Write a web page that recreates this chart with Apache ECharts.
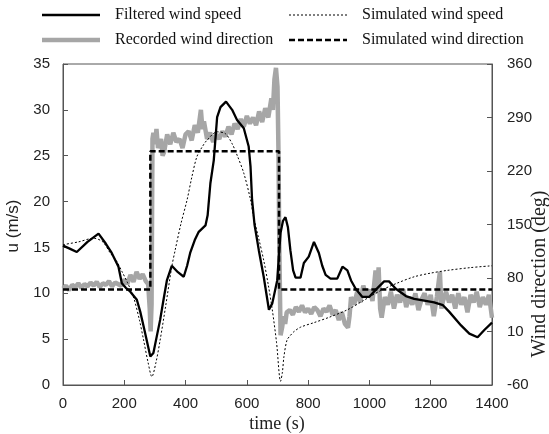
<!DOCTYPE html>
<html>
<head>
<meta charset="utf-8">
<script src="https://cdn.jsdelivr.net/npm/echarts@6/dist/echarts.min.js"></script>
<style>
  html, body { margin: 0; padding: 0; background: #fff; }
  #chart { width: 549px; height: 434px; }
</style>
</head>
<body>
<div id="chart"></div>
<script>
// time axis ticks (s)
const timeTicks = [0, 200, 400, 600, 800, 1000, 1200, 1400];
// left axis: wind speed u (m/s); right axis: wind direction (deg)
const speedTicks = [0, 5, 10, 15, 20, 25, 30, 35];
const directionTicks = [-60, 10, 80, 150, 220, 290, 360];

// Filtered wind speed [time s, u m/s]
const filteredSpeed = [
  [0,15.2],[20,14.9],[45,14.5],[80,15.6],[116,16.5],[140,15.4],[159,14.4],[181,12.9],
  [192,11.1],[205,10.6],[219,10.2],[241,9.3],[252,8.0],[263,6.4],[275,4.6],[285,3.1],
  [295,3.5],[306,5.3],[317,7.1],[328,9.3],[339,11.4],[355,13.0],[375,12.3],[394,11.8],
  [405,13.0],[415,14.4],[430,15.8],[443,16.7],[465,17.4],[472,18.5],[481,22.0],[492,24.5],
  [503,29.2],[514,30.3],[532,30.9],[552,30.0],[568,28.9],[590,28.0],[606,26.0],[612,23.8],
  [617,20.2],[625,17.5],[639,14.7],[655,11.8],[672,8.2],[683,8.9],[699,11.4],[710,16.6],
  [718,17.9],[726,18.3],[734,17.2],[742,14.7],[751,12.5],[759,11.7],[775,11.7],[786,13.3],
  [802,14.0],[819,15.6],[835,14.4],[846,13.0],[857,12.0],[873,11.6],[895,11.6],[912,12.9],
  [928,12.5],[940,11.4],[955,10.5],[977,9.6],[999,9.6],[1021,10.4],[1048,11.3],[1064,11.3],
  [1086,10.5],[1119,9.7],[1146,9.4],[1179,9.2],[1211,9.0],[1240,8.7],[1260,8.0],[1299,6.5],
  [1326,5.6],[1353,5.2],[1375,6.0],[1400,6.8]
];

// Simulated wind speed [time s, u m/s]
const simulatedSpeed = [
  [0,15.3],[50,15.6],[100,16.0],[130,15.6],[154,14.4],[175,13.5],[192,12.4],[210,11.2],
  [230,9.6],[250,7.0],[263,4.9],[278,2.4],[290,0.9],[303,2.4],[317,4.9],[335,8.6],
  [355,12.9],[366,14.7],[385,17.6],[405,20.2],[420,22.6],[437,24.9],[455,26.0],[470,26.7],
  [503,27.6],[530,27.4],[552,26.3],[570,24.9],[590,23.1],[612,20.2],[622,18.3],[640,15.8],
  [655,13.6],[670,10.9],[683,8.2],[697,4.6],[710,0.4],[716,1.4],[721,3.1],[731,4.9],
  [742,5.4],[753,5.8],[775,6.3],[819,6.8],[870,7.4],[928,8.2],[980,9.2],[1037,10.3],
  [1090,11.1],[1146,11.8],[1200,12.2],[1255,12.5],[1330,12.8],[1400,13.0]
];

// Recorded wind direction [time s, deg]
const recordedDirection = [
  [0,66],[10,70],[20,64],[30,71],[40,68],[50,73],[60,67],[70,72],[80,69],[90,74],
  [100,70],[110,75],[120,68],[130,73],[140,71],[150,76],[160,69],[170,74],[180,72],[190,70],
  [200,78],[210,72],[220,84],[230,75],[240,88],[250,79],[260,85],[270,76],[278,72],[283,40],
  [286,10],[289,45],[292,262],[295,270],[300,255],[305,275],[310,250],[320,262],[325,240],
  [330,245],[340,268],[350,255],[360,270],[370,258],[380,262],[390,250],[400,268],[410,272],
  [420,260],[430,280],[440,270],[450,300],[455,275],[460,285],[470,262],[480,270],[490,258],
  [500,268],[510,262],[520,272],[530,265],[540,278],[550,268],[560,282],[570,275],[580,288],
  [590,278],[600,292],[610,282],[620,290],[630,280],[640,298],[650,284],[660,302],[670,290],
  [680,315],[685,300],[690,340],[695,355],[700,330],[703,250],[706,120],[710,5],[715,15],
  [720,30],[725,20],[730,35],[740,38],[750,32],[760,42],[770,36],[780,44],[790,35],[800,40],
  [810,33],[820,42],[830,38],[840,30],[850,40],[860,36],[870,44],[880,32],[890,38],[900,25],
  [910,35],[920,20],[930,15],[935,30],[940,55],[950,45],[960,62],[970,48],[980,70],[990,55],
  [1000,65],[1010,50],[1020,90],[1025,60],[1030,94],[1035,40],[1040,28],[1050,55],[1060,45],
  [1070,62],[1080,40],[1090,58],[1100,48],[1110,65],[1120,42],[1130,55],[1140,45],[1150,60],
  [1160,38],[1170,52],[1180,60],[1190,45],[1200,58],[1210,30],[1220,55],[1230,88],[1235,40],
  [1240,50],[1250,62],[1260,48],[1270,58],[1280,40],[1290,60],[1300,45],[1310,55],[1320,35],
  [1330,58],[1340,48],[1350,62],[1360,42],[1370,55],[1380,45],[1390,58],[1400,28]
];

// Simulated wind direction [time s, deg]
const simulatedDirection = [
  [0,65],[285,65],[285,246],[705,246],[705,65],[1400,65]
];

const serif = '"Liberation Serif", "Times New Roman", serif';
const sans = '"Liberation Sans", Arial, sans-serif';
const axisColor = '#555';
const labelStyle = { fontFamily: sans, fontSize: 15, color: '#222', formatter: v => String(v) };

const chart = echarts.init(document.getElementById('chart'), null, { renderer: 'canvas' });

// legend drawn as line swatches + labels, two rows by two columns
function legendItem(x, y, label, line) {
  return [
    { type: 'line', shape: { x1: x, y1: y, x2: x + 58, y2: y }, style: line, silent: true },
    { type: 'text', x: x + 73, y: y, style: { text: label, font: '16px ' + serif, fill: '#111', verticalAlign: 'middle' } }
  ];
}

const legendGraphics = [].concat(
  legendItem(42, 15, 'Filtered wind speed', { stroke: '#000', lineWidth: 2.5 }),
  legendItem(289, 15, 'Simulated wind speed', { stroke: '#000', lineWidth: 1, lineDash: [2, 2] }),
  legendItem(42, 40, 'Recorded wind direction', { stroke: '#a6a6a6', lineWidth: 4.5 }),
  legendItem(289, 40, 'Simulated wind direction', { stroke: '#000', lineWidth: 2.5, lineDash: [6, 3] })
);

const option = {
  animation: false,
  backgroundColor: '#fff',
  grid: { left: 63, right: 57, top: 64, bottom: 49, show: true, borderColor: axisColor, borderWidth: 1 },
  xAxis: {
    type: 'value', min: timeTicks[0], max: timeTicks[timeTicks.length - 1],
    interval: timeTicks[1] - timeTicks[0],
    axisLine: { show: true, lineStyle: { color: axisColor } },
    axisTick: { show: true, inside: true, length: 5, lineStyle: { color: axisColor } },
    axisLabel: Object.assign({ margin: 11 }, labelStyle),
    splitLine: { show: false }
  },
  yAxis: [
    {
      type: 'value', min: speedTicks[0], max: speedTicks[speedTicks.length - 1],
      interval: speedTicks[1] - speedTicks[0],
      axisLine: { show: true, lineStyle: { color: axisColor } },
      axisTick: { show: true, inside: true, length: 5, lineStyle: { color: axisColor } },
      axisLabel: Object.assign({ margin: 13 }, labelStyle),
      splitLine: { show: false }
    },
    {
      type: 'value', position: 'right',
      min: directionTicks[0], max: directionTicks[directionTicks.length - 1],
      interval: directionTicks[1] - directionTicks[0],
      axisLine: { show: true, lineStyle: { color: axisColor } },
      axisTick: { show: true, inside: true, length: 5, lineStyle: { color: axisColor } },
      axisLabel: Object.assign({ margin: 15 }, labelStyle),
      splitLine: { show: false }
    }
  ],
  graphic: legendGraphics.concat([
    { type: 'text', x: 13, y: 226, rotation: Math.PI / 2,
      style: { text: 'u (m/s)', font: '17px ' + sans, fill: '#222', align: 'center', verticalAlign: 'middle' } },
    { type: 'text', x: 540, y: 274, rotation: Math.PI / 2,
      style: { text: 'Wind direction (deg)', font: '20px ' + serif, fill: '#222', align: 'center', verticalAlign: 'middle' } },
    { type: 'text', x: 277, y: 424,
      style: { text: 'time (s)', font: '18px ' + serif, fill: '#222', align: 'center', verticalAlign: 'middle' } }
  ]),
  series: [
    {
      name: 'Recorded wind direction', type: 'line', yAxisIndex: 1, data: recordedDirection,
      showSymbol: false, lineStyle: { color: '#a6a6a6', width: 4.5 }, z: 1
    },
    {
      name: 'Simulated wind speed', type: 'line', yAxisIndex: 0, data: simulatedSpeed,
      showSymbol: false, smooth: 0.3, lineStyle: { color: '#000', width: 1, type: [2, 2] }, z: 2
    },
    {
      name: 'Simulated wind direction', type: 'line', yAxisIndex: 1, data: simulatedDirection,
      showSymbol: false, lineStyle: { color: '#000', width: 2.5, type: [6, 3] }, z: 3
    },
    {
      name: 'Filtered wind speed', type: 'line', yAxisIndex: 0, data: filteredSpeed,
      showSymbol: false, lineStyle: { color: '#000', width: 2.3 }, z: 4
    }
  ]
};

chart.setOption(option);
</script>
</body>
</html>
